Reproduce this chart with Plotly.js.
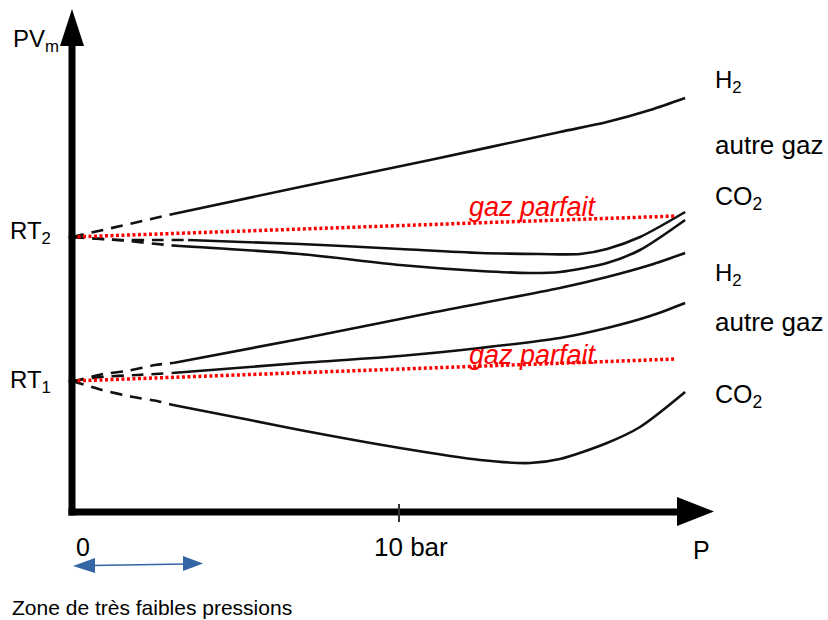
<!DOCTYPE html>
<html>
<head>
<meta charset="utf-8">
<script src="https://cdn.plot.ly/plotly-3.0.1.min.js"></script>
<style>html,body{margin:0;padding:0;background:#fff;}#chart{width:828px;height:620px;}</style>
</head>
<body>
<div id="chart"></div>
<script>
// ---- Data (pressure in bar, PVm in arbitrary units) ----
const pH2Haut = [0, 3.09, 6.97, 10.95, 14.92, 16.36, 17.68, 18.75];
const vH2Haut = [27.5, 29.8, 32.5, 35.2, 38.0, 39.0, 40.2, 41.4];
const dashH2Haut = 1;

const pAutreHaut = [0, 1.41, 2.60, 3.55, 6.97, 10.03, 12.48, 14.31, 15.54, 16.36, 17.37, 18.75];
const vAutreHaut = [27.5, 27.2, 27.2, 27.2, 26.8, 26.3, 25.9, 25.8, 25.8, 26.3, 27.5, 30.0];
const dashAutreHaut = 3;

const pCO2Haut = [0, 1.41, 2.91, 3.30, 6.97, 10.03, 12.48, 14.01, 14.92, 16.36, 17.37, 18.75];
const vCO2Haut = [27.5, 27.2, 26.7, 26.6, 25.8, 24.7, 24.1, 23.9, 24.0, 24.9, 26.2, 29.2];
const dashCO2Haut = 3;

const pH2Bas = [0, 0.95, 1.68, 2.54, 3.09, 6.97, 10.95, 14.92, 16.36, 17.68, 18.75];
const vH2Bas = [13.0, 13.8, 14.1, 14.7, 14.9, 17.3, 19.9, 22.4, 23.5, 24.7, 25.9];
const dashH2Bas = 4;

const pAutreBas = [0, 0.86, 1.99, 3.06, 6.97, 10.03, 12.48, 14.92, 16.36, 17.68, 18.75];
const vAutreBas = [13.1, 13.5, 13.7, 13.9, 14.9, 15.6, 16.4, 17.4, 18.4, 19.6, 20.9];
const dashAutreBas = 3;

const pCO2Bas = [0, 0.92, 1.87, 2.60, 3.09, 5.44, 6.97, 10.03, 12.48, 14.01, 14.92, 16.36, 17.37, 18.75];
const vCO2Bas = [13.1, 12.2, 11.5, 11.1, 10.7, 9.2, 8.2, 6.4, 5.2, 4.9, 5.3, 6.9, 8.5, 12.0];
const dashCO2Bas = 4;

const pParfait = [0, 18.47];
const vParfaitHaut = [27.5, 29.6];
const vParfaitBas = [13.1, 15.3];

const tickLabels = ["0", "10 bar", "P"];
const tickValues = [0, 10];

// ---- Layout helpers (pixel -> data, for decorations only) ----
const PXB = 32.7;
function X(px){ return (px - 72) / PXB; }
function Y(py){ return (512 - py) / 10; }

const BLACK = '#111111';
const RED = '#ff0000';
const FONT = 'Liberation Sans, Arial, sans-serif';

const traces = [];
function curve(p, v, dashEnd){
  traces.push({x: p.slice(0, dashEnd + 1), y: v.slice(0, dashEnd + 1), mode: 'lines',
    line: {color: BLACK, width: 2.6, dash: '12px,8px', shape: 'spline', smoothing: 0.6}, hoverinfo: 'skip'});
  traces.push({x: p.slice(dashEnd), y: v.slice(dashEnd), mode: 'lines',
    line: {color: BLACK, width: 2.6, shape: 'spline', smoothing: 0.8}, hoverinfo: 'skip'});
}
curve(pH2Haut, vH2Haut, dashH2Haut);
curve(pAutreHaut, vAutreHaut, dashAutreHaut);
curve(pCO2Haut, vCO2Haut, dashCO2Haut);
curve(pH2Bas, vH2Bas, dashH2Bas);
curve(pAutreBas, vAutreBas, dashAutreBas);
curve(pCO2Bas, vCO2Bas, dashCO2Bas);
traces.push({x: pParfait, y: vParfaitHaut, mode: 'lines', line: {color: RED, width: 3.5, dash: '3px,2.5px'}, hoverinfo: 'skip'});
traces.push({x: pParfait, y: vParfaitBas, mode: 'lines', line: {color: RED, width: 3.5, dash: '3px,2.5px'}, hoverinfo: 'skip'});
// start points (RT1, RT2)
traces.push({x: [pParfait[0], pParfait[0]], y: [vParfaitHaut[0], vParfaitBas[0]], mode: 'markers',
  marker: {color: BLACK, size: 7}, hoverinfo: 'skip'});

const shapes = [
  // vertical axis
  {type: 'rect', xref: 'x', yref: 'y', x0: X(68.5), x1: X(75.5), y0: Y(515.5), y1: Y(44), fillcolor: '#000', line: {width: 0}},
  {type: 'path', xref: 'x', yref: 'y', path: `M ${X(72)} ${Y(9)} L ${X(60)} ${Y(46)} L ${X(84)} ${Y(46)} Z`, fillcolor: '#000', line: {width: 0}},
  // horizontal axis
  {type: 'rect', xref: 'x', yref: 'y', x0: X(68.5), x1: X(679), y0: Y(515.5), y1: Y(508.5), fillcolor: '#000', line: {width: 0}},
  {type: 'path', xref: 'x', yref: 'y', path: `M ${X(714)} ${Y(511.5)} L ${X(677)} ${Y(497)} L ${X(677)} ${Y(526)} Z`, fillcolor: '#000', line: {width: 0}},
  // tick at 10 bar
  {type: 'line', xref: 'x', yref: 'y', x0: tickValues[1], x1: tickValues[1], y0: Y(504), y1: Y(522), line: {color: '#333', width: 2}},
  // blue double arrow
  {type: 'line', xref: 'x', yref: 'y', x0: X(92), x1: X(186), y0: Y(565.5), y1: Y(564), line: {color: '#3465a4', width: 1.5}},
  {type: 'path', xref: 'x', yref: 'y', path: `M ${X(73)} ${Y(566)} L ${X(95)} ${Y(558)} L ${X(95)} ${Y(573)} Z`, fillcolor: '#3465a4', line: {width: 0}},
  {type: 'path', xref: 'x', yref: 'y', path: `M ${X(203)} ${Y(563.5)} L ${X(183)} ${Y(556)} L ${X(183)} ${Y(571)} Z`, fillcolor: '#3465a4', line: {width: 0}}
];

function label(text, px, py, size, opts){
  return Object.assign({text: text, x: X(px), y: Y(py), xref: 'x', yref: 'y', showarrow: false,
    xanchor: 'left', yanchor: 'middle', font: {family: FONT, size: size, color: '#000'}}, opts || {});
}

const annotations = [
  label('PV<sub>m</sub>', 11, 40, 24),
  label('RT<sub>2</sub>', 8, 232, 24),
  label('RT<sub>1</sub>', 8, 381, 24),
  label(tickLabels[0], 83, 547, 25, {xanchor: 'center'}),
  label(tickLabels[1], 411, 547, 26, {xanchor: 'center'}),
  label(tickLabels[2], 701, 550, 25, {xanchor: 'center'}),
  label('Zone de très faibles pressions', 10, 607, 21),
  label('H<sub>2</sub>', 713, 81, 24),
  label('autre gaz', 713, 145, 26),
  label('CO<sub>2</sub>', 713, 198, 25),
  label('H<sub>2</sub>', 713, 274, 24),
  label('autre gaz', 713, 322, 26),
  label('CO<sub>2</sub>', 713, 396, 25),
  label('<i>gaz parfait</i>', 467, 207, 27, {font: {family: FONT, size: 27, color: RED}}),
  label('<i>gaz parfait</i>', 467, 355, 27, {font: {family: FONT, size: 27, color: RED}})
];

const layout = {
  width: 828, height: 620,
  margin: {l: 0, r: 0, t: 0, b: 0},
  paper_bgcolor: '#fff', plot_bgcolor: '#fff',
  showlegend: false,
  xaxis: {visible: false, range: [X(0), X(828)], fixedrange: true},
  yaxis: {visible: false, range: [Y(620), Y(0)], fixedrange: true},
  shapes: shapes,
  annotations: annotations
};

Plotly.newPlot('chart', traces, layout, {staticPlot: true, displayModeBar: false});
</script>
</body>
</html>
